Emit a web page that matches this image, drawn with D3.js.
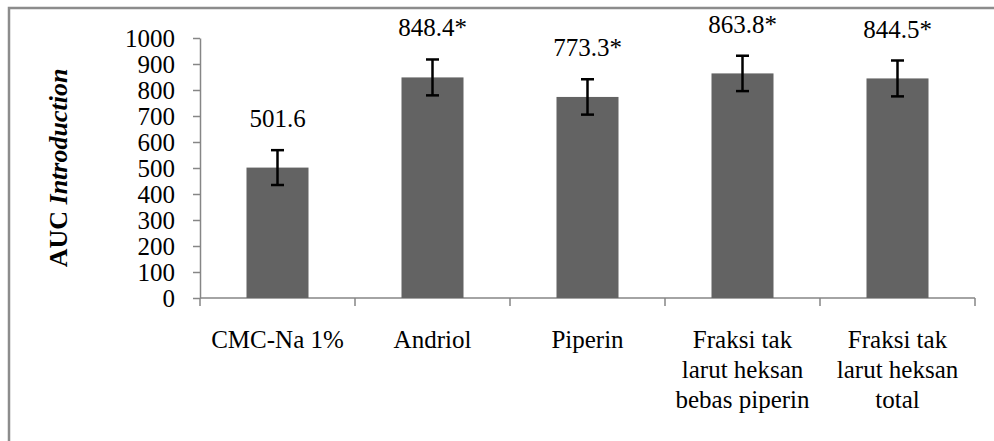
<!DOCTYPE html>
<html>
<head>
<meta charset="utf-8">
<script src="https://cdn.jsdelivr.net/npm/d3@7"></script>
<style>
  body { margin: 0; background: #fff; }
  svg { display: block; font-family: "Liberation Serif", "Times New Roman", serif; }
  .axis path, .axis line { stroke: #868686; stroke-width: 1.5; }
  .axis text { fill: #000; font-size: 25px; font-family: "Liberation Serif", serif; }
</style>
</head>
<body>
<svg id="chart"></svg>
<script>
// data
const categories = ['CMC-Na 1%', 'Andriol', 'Piperin', 'Fraksi tak\nlarut heksan\nbebas piperin', 'Fraksi tak\nlarut heksan\ntotal']
const values = [501.6, 848.4, 773.3, 863.8, 844.5]
const errors = [67, 69, 68, 68, 69]
const valueLabels = ['501.6', '848.4*', '773.3*', '863.8*', '844.5*']
const yTicks = [0, 100, 200, 300, 400, 500, 600, 700, 800, 900, 1000]

const W = 994, H = 441
const margin = {top: 38, right: 19, bottom: 143, left: 200}
const width = W - margin.left - margin.right
const height = H - margin.top - margin.bottom
const serif = 'Liberation Serif, Times New Roman, serif'

const svg = d3.select('#chart')
  .attr('width', W)
  .attr('height', H)

// outer frame (cut off on right and bottom like the reference)
svg.append('rect')
  .attr('x', 9).attr('y', 8)
  .attr('width', W).attr('height', H)
  .attr('fill', 'none')
  .attr('stroke', '#8c8c8c')
  .attr('stroke-width', 2.5)

const g = svg.append('g')
  .attr('transform', 'translate(' + margin.left + ',' + margin.top + ')')

// scales
const x = d3.scaleBand()
  .domain(categories)
  .range([0, width])
  .paddingInner(0.6)
  .paddingOuter(0.3)

const xEdge = d3.scaleBand().domain(categories).range([0, width])

const y = d3.scaleLinear()
  .domain([0, 1000])
  .range([height, 0])

// y axis
g.append('g')
  .attr('class', 'axis')
  .call(d3.axisLeft(y).tickValues(yTicks).tickFormat(d3.format('d')).tickSize(7).tickPadding(18).tickSizeOuter(0))
  .attr('font-family', serif)
  .attr('font-size', 25)
  .call(a => a.selectAll('text').attr('dy', '0.34em'))

// x axis: line + ticks on category boundaries
const xa = g.append('g')
  .attr('class', 'axis')
  .attr('transform', 'translate(0,' + height + ')')
xa.append('line')
  .attr('x1', 0).attr('x2', width)
xa.selectAll('line.tk')
  .data(categories.map(c => xEdge(c)).concat([width]))
  .join('line')
  .attr('class', 'tk')
  .attr('x1', d => d).attr('x2', d => d)
  .attr('y1', 0).attr('y2', 8)

// category labels
const labels = xa.selectAll('text.cat')
  .data(categories)
  .join('text')
  .attr('class', 'cat')
  .attr('text-anchor', 'middle')
  .attr('font-family', serif)
  .attr('transform', d => 'translate(' + (xEdge(d) + xEdge.bandwidth() / 2) + ',50)')
labels.selectAll('tspan')
  .data(d => d.split('\n'))
  .join('tspan')
  .attr('x', 0)
  .attr('y', (d, i) => i * 30)
  .attr('font-size', '25px')
  .text(d => d)

const data = categories.map((c, i) => ({cat: c, v: values[i], e: errors[i], label: valueLabels[i]}))

// bars
g.selectAll('rect.bar')
  .data(data)
  .join('rect')
  .attr('class', 'bar')
  .attr('x', d => x(d.cat))
  .attr('y', d => y(d.v))
  .attr('width', x.bandwidth())
  .attr('height', d => height - y(d.v))
  .attr('fill', '#636363')

// error bars
const eb = g.selectAll('g.err')
  .data(data)
  .join('g')
  .attr('class', 'err')
  .attr('transform', d => 'translate(' + (x(d.cat) + x.bandwidth() / 2) + ',0)')
  .attr('stroke', '#000')
  .attr('stroke-width', 2.5)
eb.append('line')
  .attr('y1', d => y(d.v + d.e)).attr('y2', d => y(d.v - d.e))
eb.append('line')
  .attr('x1', -6.5).attr('x2', 6.5)
  .attr('y1', d => y(d.v + d.e)).attr('y2', d => y(d.v + d.e))
eb.append('line')
  .attr('x1', -6.5).attr('x2', 6.5)
  .attr('y1', d => y(d.v - d.e)).attr('y2', d => y(d.v - d.e))

// value labels
g.selectAll('text.val')
  .data(data)
  .join('text')
  .attr('class', 'val')
  .attr('x', d => x(d.cat) + x.bandwidth() / 2)
  .attr('y', d => y(d.v + d.e) - 23)
  .attr('text-anchor', 'middle')
  .attr('font-family', serif)
  .attr('font-size', '25px')
  .text(d => d.label)

// y title
const yt = svg.append('text')
  .attr('transform', 'translate(67,' + (margin.top + height / 2) + ') rotate(-90)')
  .attr('text-anchor', 'middle')
  .attr('font-family', serif)
  .attr('font-size', '26px')
  .attr('font-weight', 'bold')
yt.append('tspan').text('AUC ')
yt.append('tspan').attr('font-style', 'italic').text('Introduction')
</script>
</body>
</html>
